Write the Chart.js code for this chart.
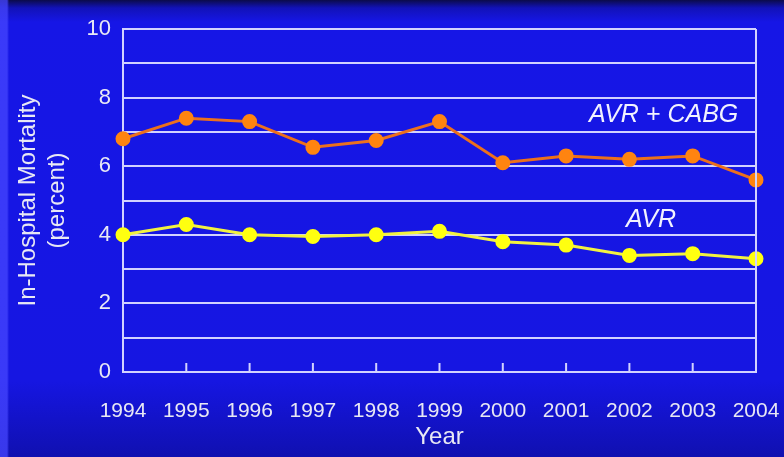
<!DOCTYPE html>
<html>
<head>
<meta charset="utf-8">
<script src="https://cdn.jsdelivr.net/npm/chart.js@4/dist/chart.umd.min.js"></script>
<style>
  html, body { margin: 0; padding: 0; }
  body {
    width: 784px;
    height: 457px;
    overflow: hidden;
    background:
      linear-gradient(to right, rgba(70, 70, 255, 0.75) 0px, rgba(70, 70, 255, 0.75) 7px, rgba(0, 0, 0, 0) 9px),
      linear-gradient(to bottom, #0b0b4a 0px, #1212b8 8px, #1616e6 22px, #1616e2 380px, #1010b0 457px);
  }
  #wrap { position: relative; width: 784px; height: 457px; }
</style>
</head>
<body>
<div id="wrap"><canvas id="chart" width="784" height="457"></canvas></div>
<script>
const years = ['1994', '1995', '1996', '1997', '1998', '1999', '2000', '2001', '2002', '2003', '2004'];
const avrCabg = [6.8, 7.4, 7.3, 6.55, 6.75, 7.3, 6.1, 6.3, 6.2, 6.3, 5.6];
const avr = [4.0, 4.3, 4.0, 3.95, 4.0, 4.1, 3.8, 3.7, 3.4, 3.45, 3.3];
const yTicks = [0, 2, 4, 6, 8, 10];

const seriesLabels = [
  { text: 'AVR + CABG', x: 8.54, y: 7.49 },
  { text: 'AVR', x: 8.34, y: 4.43 },
];

const lineColor = '#d2d2ff';
const font = "'Liberation Sans', Arial, sans-serif";

// inward tick marks on the year axis, right frame edge and in-plot series names
const frame = {
  id: 'frame',
  afterDatasetsDraw(chart) {
    const { ctx, chartArea, scales } = chart;
    ctx.save();
    ctx.strokeStyle = lineColor;
    ctx.lineWidth = 2;
    ctx.beginPath();
    scales.x.ticks.forEach((t, i) => {
      const px = scales.x.getPixelForTick(i);
      ctx.moveTo(px, chartArea.bottom);
      ctx.lineTo(px, chartArea.bottom - 9);
    });
    ctx.moveTo(chartArea.right, chartArea.top);
    ctx.lineTo(chartArea.right, chartArea.bottom + 1);
    ctx.stroke();

    ctx.fillStyle = '#f2f2ff';
    ctx.font = 'italic 25px ' + font;
    ctx.textAlign = 'center';
    ctx.textBaseline = 'middle';
    seriesLabels.forEach(l => {
      ctx.fillText(l.text, scales.x.getPixelForValue(l.x), scales.y.getPixelForValue(l.y));
    });
    ctx.restore();
  }
};

new Chart(document.getElementById('chart'), {
  type: 'line',
  data: {
    labels: years,
    datasets: [
      {
        label: 'AVR + CABG',
        data: avrCabg,
        borderColor: '#ec701c',
        backgroundColor: '#ff8410',
        pointBackgroundColor: '#ff8410',
        pointBorderColor: '#ff8410',
        borderWidth: 3,
        pointRadius: 6,
        tension: 0,
      },
      {
        label: 'AVR',
        data: avr,
        borderColor: '#f2f240',
        backgroundColor: '#ffff10',
        pointBackgroundColor: '#ffff10',
        pointBorderColor: '#ffff10',
        borderWidth: 3,
        pointRadius: 6,
        tension: 0,
      },
    ],
  },
  options: {
    responsive: false,
    animation: false,
    layout: { padding: { top: 29, right: 28, bottom: 0, left: 0 } },
    plugins: {
      legend: { display: false },
      tooltip: { enabled: false },
    },
    scales: {
      x: {
        afterFit: (s) => {
          s.height = 85;
          s.paddingLeft = 0;
          s.paddingRight = 0;
        },
        grid: { display: false },
        border: { display: true, color: lineColor, width: 2 },
        ticks: {
          color: '#e8e8f4',
          padding: 19,
          maxRotation: 0,
          autoSkip: false,
          font: { family: font, size: 21 },
        },
        title: {
          display: true,
          text: 'Year',
          color: '#e8e8f4',
          padding: { top: 0, bottom: 5 },
          font: { family: font, size: 24 },
        },
      },
      y: {
        min: 0,
        max: 10,
        afterFit: (s) => { s.width = 123; },
        grid: { color: lineColor, lineWidth: 2, drawTicks: false },
        border: { display: true, color: lineColor, width: 2 },
        ticks: {
          stepSize: 1,
          color: '#e8e8f4',
          padding: 12,
          font: { family: font, size: 22 },
          callback: (v) => (yTicks.includes(v) ? String(v) : ''),
        },
        title: {
          display: true,
          text: ['In-Hospital Mortality', '(percent)'],
          color: '#e8e8f4',
          padding: { top: 14, bottom: 0 },
          font: { family: font, size: 24, lineHeight: 1.2 },
        },
      },
    },
  },
  plugins: [frame],
});
</script>
</body>
</html>
